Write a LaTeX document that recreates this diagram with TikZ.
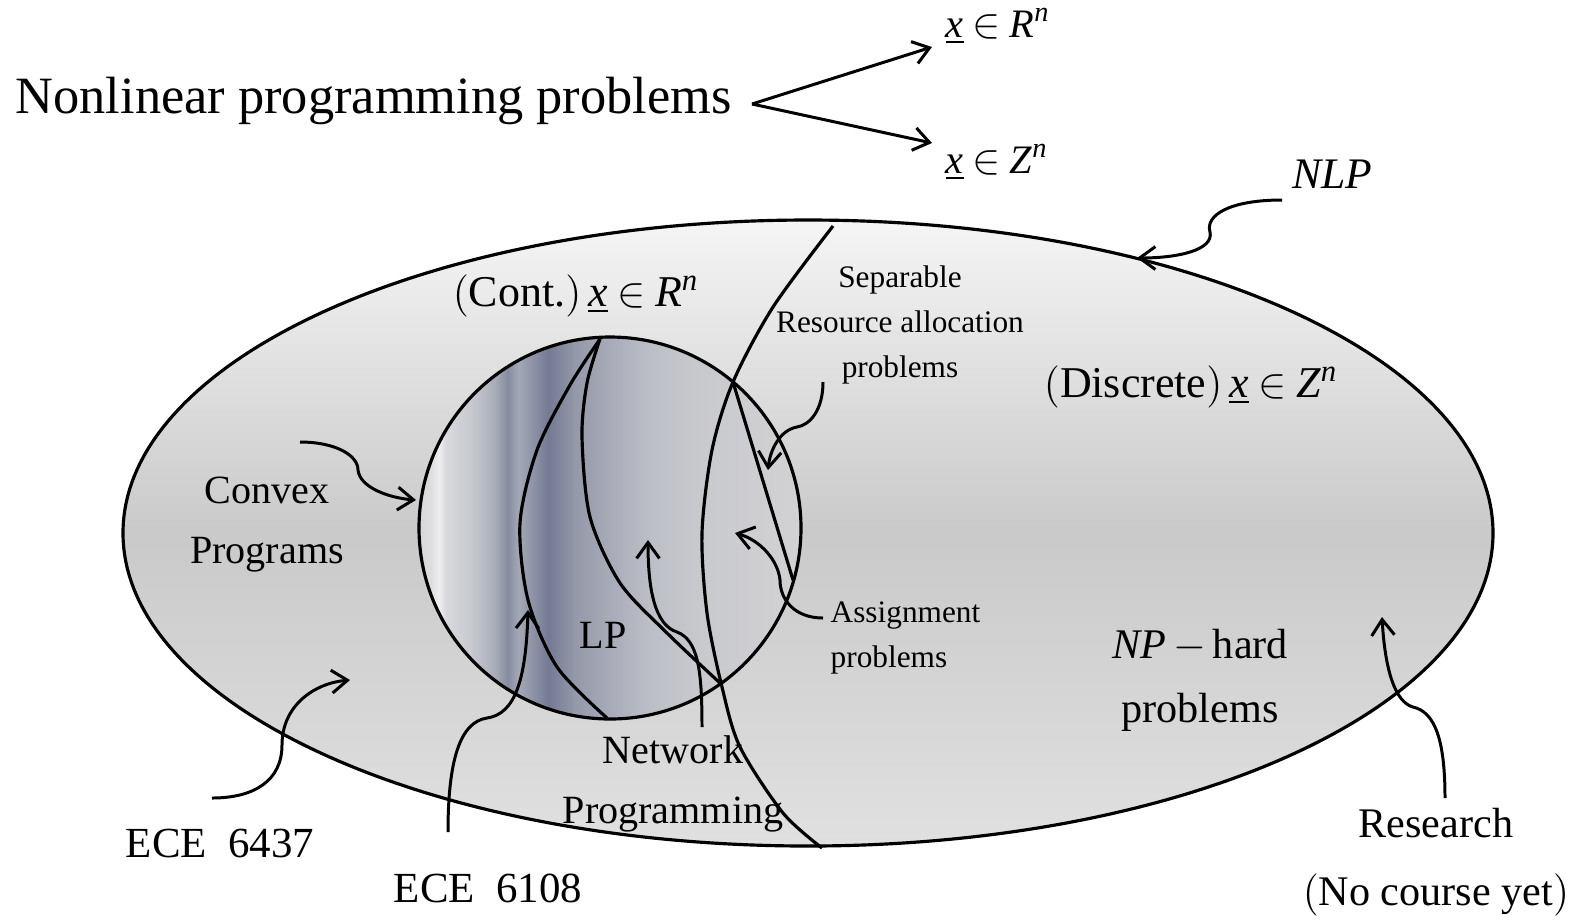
\documentclass[tikz,border=0pt]{standalone}
\usepackage{fontspec}
\setmainfont{Liberation Serif}
\usetikzlibrary{arrows.meta}

% greys of the LP disc
\definecolor{lpA}{HTML}{D6D6D8}
\definecolor{lpB}{HTML}{DEDEE0}
\definecolor{lpC}{HTML}{EEEEEF}
\definecolor{lpD}{HTML}{D8D8DC}
\definecolor{lpE}{HTML}{C8CAD0}
\definecolor{lpF}{HTML}{A8ACB8}
\definecolor{lpG}{HTML}{868CA0}
\definecolor{lpH}{HTML}{A4A8B6}
\definecolor{lpI}{HTML}{8A90A4}
\definecolor{lpJ}{HTML}{737A92}
\definecolor{lpK}{HTML}{9498A8}
\definecolor{lpL}{HTML}{A8ABB8}
\definecolor{lpM}{HTML}{BCBEC6}
\definecolor{lpN}{HTML}{C8C9CD}
\definecolor{lpO}{HTML}{D2D2D4}
\pgfdeclarehorizontalshading{lpshade}{100bp}{
  color(0bp)=(lpA); color(25bp)=(lpA); color(26.6bp)=(lpB);
  color(27.6bp)=(lpC); color(28.6bp)=(lpD); color(31.8bp)=(lpE);
  color(35bp)=(lpF); color(36.6bp)=(lpG); color(38bp)=(lpH);
  color(40.2bp)=(lpI); color(41.9bp)=(lpJ); color(45.4bp)=(lpK);
  color(50bp)=(lpL); color(55bp)=(lpM); color(61.6bp)=(lpN);
  color(75bp)=(lpO); color(100bp)=(lpO)}

\newcommand{\memb}[1]{\underline{\textit{x}}\hspace{0.22em}$\in$\hspace{0.22em}\textit{#1}\textsuperscript{\textit{n}}}

\begin{document}
\begin{tikzpicture}[
  x=0.01cm, y=-0.01cm,
  outline/.style={line width=0.9pt},
  curl/.style={line width=0.85pt, -{Straight Barb[length=4.5pt,width=6.5pt]}},
  txt/.style 2 args={inner sep=0pt, align=center, font=\fontsize{#1}{#2}\selectfont}
]
  \useasboundingbox (0,0) rectangle (1585,920);

  % the NLP set and the continuous disc
  \draw[outline, top color=white!96!black, bottom color=white!88!black,
        middle color=white!79!black] (808,533) ellipse [x radius=685, y radius=313];
  \draw[outline, shading=lpshade, shading angle=0] (610,528) circle [radius=191];

  % borders inside the disc
  \draw[outline] plot[smooth] coordinates {(600,339) (570,385) (537,450) (520,523)
    (528,600) (557,667) (607,718)};
  \draw[outline] plot[smooth] coordinates {(600,339) (587,383) (582,437) (590,517)
    (620,583) (667,633) (720,683)};
  \draw[outline] (733,382) -- (793,580);
  % continuous / discrete divider
  \draw[outline] plot[smooth] coordinates {(833,226) (773,307) (733,382) (712,450)
    (702,533) (707,613) (722,687) (740,747) (783,813) (822,848)};

  % labels (base = last line)
  \node[txt={14.9}{18}, anchor=base west] (title) at (15,113) {Nonlinear programming problems};
  \node[txt={11.5}{13}, anchor=base west] (rn) at (945,37) {\memb{R}};
  \node[txt={11.5}{13}, anchor=base west] (zn) at (945,173) {\memb{Z}};
  \node[txt={12.5}{15}, anchor=base] (cont) at (576,306) {$\bigl($Cont.$\bigr)$\hspace{0.15em}\memb{R}};
  \node[txt={12.5}{15}, anchor=base] (disc) at (1191,397) {$\bigl($Discrete$\bigr)$\hspace{0.15em}\memb{Z}};
  \node[txt={12.4}{15}, anchor=base] (nlp) at (1332,188) {\textit{NLP}};
  \node[txt={8.9}{12.7}, anchor=base] (sep) at (900,377) {Separable\\Resource allocation\\problems};
  \node[txt={8.9}{12.7}, anchor=base west, align=left] (asg) at (830,667) {Assignment\\problems};
  \node[txt={11.4}{17}, anchor=base] (cvx) at (267,563) {Convex\\Programs};
  \node[txt={11.4}{14}, anchor=base] (lp) at (603,648) {LP};
  \node[txt={11.4}{17}, anchor=base] (net) at (673,823) {Network\\Programming};
  \node[txt={12}{18.1}, anchor=base] (nph) at (1200,722) {\textit{NP}\,$-$\,hard\\problems};
  \node[txt={12.2}{14}, anchor=base] (ece1) at (220,857) {ECE\enspace 6437};
  \node[txt={12.2}{14}, anchor=base] (ece2) at (488,902) {ECE\enspace 6108};
  \node[txt={12}{19.3}, anchor=base] (res) at (1436,905) {Research\\$\bigl($No course yet$\bigr)$};

  % arrow ends
  \coordinate (fork) at (752,104);
  \coordinate (rtip) at (932,47);
  \coordinate (ztip) at (932,143);
  \coordinate (nlpfrom) at (1282,200);   \coordinate (nlpto) at (1137,258);
  \coordinate (cvxfrom) at (300,442);    \coordinate (cvxto) at (416,500);
  \coordinate (ecefrom) at (212,798);    \coordinate (eceto) at (350,680);
  \coordinate (lpfrom) at (448,832);     \coordinate (lpto) at (528,610);
  \coordinate (netfrom) at (702,727);    \coordinate (netto) at (648,540);
  \coordinate (sepfrom) at (823,382);    \coordinate (septo) at (768,470);
  \coordinate (asgfrom) at (823,618);    \coordinate (asgto) at (735,533);
  \coordinate (resfrom) at (1445,798);   \coordinate (resto) at (1382,617);

  \draw[curl] (fork) -- (rtip);
  \draw[curl] (fork) -- (ztip);
  \draw[curl] (nlpfrom) .. controls (1230,200) and (1205,215) .. (1210,232)
    .. controls (1214,250) and (1178,258) .. (nlpto);
  \draw[curl] (cvxfrom) .. controls (335,442) and (358,455) .. (358,470)
    .. controls (360,488) and (390,498) .. (cvxto);
  \draw[curl] (ecefrom) .. controls (255,798) and (282,780) .. (282,745)
    .. controls (282,705) and (315,683) .. (eceto);
  \draw[curl] (lpfrom) .. controls (448,760) and (460,722) .. (487,718)
    .. controls (515,714) and (526,680) .. (lpto);
  \draw[curl] (netfrom) .. controls (702,670) and (698,640) .. (677,632)
    .. controls (655,625) and (648,590) .. (netto);
  \draw[curl] (sepfrom) .. controls (823,410) and (810,425) .. (797,427)
    .. controls (780,430) and (770,450) .. (septo);
  \draw[curl] (asgfrom) .. controls (795,618) and (780,600) .. (780,580)
    .. controls (778,560) and (760,540) .. (asgto);
  \draw[curl] (resfrom) .. controls (1445,740) and (1435,712) .. (1413,707)
    .. controls (1395,702) and (1385,670) .. (resto);
\end{tikzpicture}
\end{document}
